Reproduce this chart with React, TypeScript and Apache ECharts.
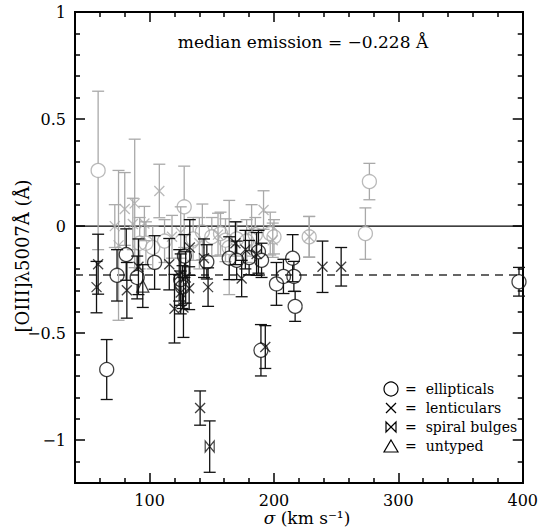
import React, { useEffect, useRef } from 'react';
import * as echarts from 'echarts';

// ---------- data: [sigma (km/s), EW [OIII] (Å), error (Å)] ----------
const greyEllipticals: number[][] = [
  [58.6, 0.26, 0.37], [127.8, 0.09, 0.19], [142.4, -0.027, 0.13], [157, -0.035, 0.1],
  [161, -0.066, 0.1], [92, -0.08, 0.12], [97, -0.08, 0.1], [197, -0.035, 0.1],
  [228.3, -0.05, 0.095], [276.7, 0.208, 0.085], [273.5, -0.035, 0.12], [102.5, -0.1, 0.1],
  [112, -0.07, 0.1], [135, -0.06, 0.1], [150, -0.05, 0.09], [170, -0.06, 0.08],
  [178, -0.07, 0.1], [185, -0.04, 0.08], [200, -0.05, 0.08], [164, -0.1, 0.22],
];
const greyLenticulars: number[][] = [
  [72, 0.0, 0.1], [80, 0.08, 0.17], [88, 0.106, 0.3], [86.5, 0.01, 0.12],
  [107.8, 0.164, 0.125], [95.8, 0.012, 0.08], [118, -0.05, 0.1], [125, -0.03, 0.12],
  [191.6, 0.075, 0.09], [199, -0.066, 0.08], [228.3, -0.05, 0.095], [140, -0.08, 0.12],
  [75, -0.09, 0.35], [182, -0.02, 0.12], [155, -0.04, 0.1],
];
const blackEllipticals: number[][] = [
  [65.5, -0.67, 0.14], [73.8, -0.23, 0.12], [81.2, -0.133, 0.12], [90, -0.24, 0.1],
  [104, -0.17, 0.125], [125, -0.25, 0.12], [126.5, -0.285, 0.1], [128, -0.14, 0.1],
  [146, -0.167, 0.08], [164, -0.15, 0.1], [170, -0.16, 0.09], [180, -0.147, 0.08],
  [187.5, -0.12, 0.1], [190, -0.16, 0.08], [189.5, -0.58, 0.12], [202, -0.27, 0.1],
  [207.6, -0.235, 0.08], [215, -0.15, 0.11], [216, -0.235, 0.07], [217, -0.375, 0.07],
  [397, -0.26, 0.067],
];
const blackLenticulars: number[][] = [
  [58.6, -0.178, 0.14], [57.3, -0.285, 0.12], [81.7, -0.3, 0.13], [91, -0.19, 0.13],
  [115.8, -0.178, 0.12], [120, -0.386, 0.16], [127.2, -0.38, 0.14], [123.8, -0.23, 0.12],
  [129, -0.24, 0.12], [125, -0.31, 0.1], [131.8, -0.29, 0.1], [132.3, -0.1, 0.13],
  [140.6, -0.85, 0.08], [143.7, -0.15, 0.09], [147, -0.285, 0.09], [169, -0.08, 0.1],
  [177, -0.11, 0.09], [174, -0.245, 0.085], [193, -0.565, 0.1], [239, -0.19, 0.12],
  [254, -0.19, 0.09], [186, -0.13, 0.1],
];
const blackSpirals: number[][] = [[148.3, -1.03, 0.12]];
const blackUntyped: number[][] = [[94.5, -0.28, 0.1]];

const medianEmission = -0.228;

const xRange = [40, 400];
const yRange = [-1.2, 1];
const xMajorTicks = [100, 200, 300, 400];
const xMinorTicks = [60, 80, 120, 140, 160, 180, 220, 240, 260, 280, 320, 340, 360, 380];
const yMajorTicks = [-1, -0.5, 0, 0.5, 1];
const yMinorTicks = [-1.1, -0.9, -0.8, -0.7, -0.6, -0.4, -0.3, -0.2, -0.1, 0.1, 0.2, 0.3, 0.4, 0.6, 0.7, 0.8, 0.9];

const legendLabels = ['=  ellipticals', '=  lenticulars', '=  spiral bulges', '=  untyped'];

const FONT = '"DejaVu Serif", "Liberation Serif", serif';
const GREY = '#a9a9a9';
const BLACK = '#111';

const CROSS = 'path://M0,0L10,10M10,0L0,10';
const BOWTIE = 'path://M0,0L10,10L10,0L0,10Z';

const fmt = (v: number) => (v < 0 ? '\u2212' + Math.abs(v) : String(v));

function App() {
  const ref = useRef<HTMLDivElement>(null);
  useEffect(() => {
    document.body.style.margin = '0';
    if (!ref.current) return;
    const chart = echarts.init(ref.current, undefined, { renderer: 'svg' });

    const xAxis = (position: string, ticks: number[], len: number, label: boolean) => ({
      type: 'value', min: xRange[0], max: xRange[1], position,
      axisLine: { show: true, onZero: false, lineStyle: { color: '#000', width: 2 } },
      axisTick: { show: true, inside: true, length: len, customValues: ticks, lineStyle: { color: '#000', width: 1.5 } },
      axisLabel: label
        ? { show: true, customValues: xMajorTicks, color: '#000', fontFamily: FONT, fontSize: 16, margin: 9, formatter: fmt }
        : { show: false },
      splitLine: { show: false },
    });
    const yAxis = (position: string, ticks: number[], len: number, label: boolean) => ({
      type: 'value', min: yRange[0], max: yRange[1], position,
      axisLine: { show: true, onZero: false, lineStyle: { color: '#000', width: 2 } },
      axisTick: { show: true, inside: true, length: len, customValues: ticks, lineStyle: { color: '#000', width: 1.5 } },
      axisLabel: label
        ? { show: true, customValues: yMajorTicks, color: '#000', fontFamily: FONT, fontSize: 16, margin: 9, formatter: fmt }
        : { show: false },
      splitLine: { show: false },
    });

    const errSeries = (data: number[][], color: string, gap: number, z: number) => ({
      type: 'custom', xAxisIndex: 0, yAxisIndex: 0, data, z, clip: false,
      encode: { x: 0, y: 1 },
      renderItem: (_p: any, api: any) => {
        const x = api.value(0), y = api.value(1), e = api.value(2);
        const c = api.coord([x, y]);
        const t = api.coord([x, y + e]);
        const b = api.coord([x, y - e]);
        const w = 6;
        const style = { stroke: color, lineWidth: 1.3, fill: null };
        return {
          type: 'group',
          children: [
            { type: 'line', shape: { x1: c[0], y1: c[1] - gap, x2: t[0], y2: t[1] }, style },
            { type: 'line', shape: { x1: c[0], y1: c[1] + gap, x2: b[0], y2: b[1] }, style },
            { type: 'line', shape: { x1: t[0] - w, y1: t[1], x2: t[0] + w, y2: t[1] }, style },
            { type: 'line', shape: { x1: b[0] - w, y1: b[1], x2: b[0] + w, y2: b[1] }, style },
          ],
        };
      },
    });
    const symSeries = (data: number[][], symbol: string, size: any, color: string, z: number) => ({
      type: 'scatter', xAxisIndex: 0, yAxisIndex: 0, z,
      data: data.map((d) => [d[0], d[1]]),
      symbol, symbolSize: size,
      itemStyle: { color: 'rgba(0,0,0,0)', borderColor: color, borderWidth: 1.3 },
      emphasis: { disabled: true },
    });

    const lx = 391, ly0 = 389, ldy = 19;
    const legendGraphics: any[] = [
      { type: 'circle', shape: { cx: lx, cy: ly0, r: 7 }, style: { fill: 'none', stroke: '#000', lineWidth: 1.2 } },
      { type: 'polyline', shape: { points: [[lx - 5, ly0 + ldy - 5], [lx + 5, ly0 + ldy + 5]] }, style: { stroke: '#000', lineWidth: 1.2 } },
      { type: 'polyline', shape: { points: [[lx + 5, ly0 + ldy - 5], [lx - 5, ly0 + ldy + 5]] }, style: { stroke: '#000', lineWidth: 1.2 } },
      { type: 'polygon', shape: { points: [[lx - 5, ly0 + 2 * ldy - 5], [lx + 5, ly0 + 2 * ldy + 5], [lx + 5, ly0 + 2 * ldy - 5], [lx - 5, ly0 + 2 * ldy + 5]] }, style: { fill: 'none', stroke: '#000', lineWidth: 1.2 } },
      { type: 'polygon', shape: { points: [[lx, ly0 + 3 * ldy - 6], [lx + 7, ly0 + 3 * ldy + 6], [lx - 7, ly0 + 3 * ldy + 6]] }, style: { fill: 'none', stroke: '#000', lineWidth: 1.2 } },
      ...legendLabels.map((t, i) => ({
        type: 'text', x: lx + 14, y: ly0 + i * ldy,
        style: { text: t, fill: '#000', font: `14px ${FONT}`, textVerticalAlign: 'middle', textAlign: 'left' },
      })),
      {
        type: 'text', x: 303, y: 42,
        style: { text: 'median emission = \u22120.228 \u00C5', fill: '#000', font: `17px ${FONT}`, textAlign: 'center', textVerticalAlign: 'middle' },
      },
      {
        type: 'text', x: 307, y: 518,
        style: {
          text: '{i|\u03C3} (km s\u207B\u00B9)', fill: '#000', font: `17px ${FONT}`, textAlign: 'center', textVerticalAlign: 'middle',
          rich: { i: { fontStyle: 'italic', fontFamily: FONT, fontSize: 17 } },
        },
      },
      {
        type: 'text', x: 22, y: 256, rotation: Math.PI / 2,
        style: { text: '[OIII]\u03BB5007\u00C5 (\u00C5)', fill: '#000', font: `18px ${FONT}`, textAlign: 'center', textVerticalAlign: 'middle' },
      },
    ];

    chart.setOption({
      animation: false,
      grid: { left: 75, right: 14, top: 12, bottom: 49 },
      xAxis: [
        xAxis('bottom', xMajorTicks, 10, true),
        xAxis('bottom', xMinorTicks, 5, false),
        xAxis('top', xMajorTicks, 10, false),
        xAxis('top', xMinorTicks, 5, false),
      ],
      yAxis: [
        yAxis('left', yMajorTicks, 10, true),
        yAxis('left', yMinorTicks, 5, false),
        yAxis('right', yMajorTicks, 10, false),
        yAxis('right', yMinorTicks, 5, false),
      ],
      series: [
        {
          type: 'line', xAxisIndex: 0, yAxisIndex: 0, data: [[xRange[0], 0], [xRange[1], 0]],
          symbol: 'none', lineStyle: { color: '#000', width: 1.2 }, z: 1,
        },
        {
          type: 'line', xAxisIndex: 0, yAxisIndex: 0, data: [[xRange[0], medianEmission], [xRange[1], medianEmission]],
          symbol: 'none', lineStyle: { color: '#333', width: 1.5, type: [8, 6] }, z: 1,
        },
        errSeries(greyEllipticals, GREY, 7, 2),
        errSeries(greyLenticulars, GREY, 0, 2),
        symSeries(greyEllipticals, 'circle', 14, GREY, 3),
        symSeries(greyLenticulars, CROSS, 10, GREY, 3),
        errSeries(blackEllipticals, BLACK, 7, 4),
        errSeries(blackLenticulars, BLACK, 0, 4),
        errSeries(blackSpirals, BLACK, 0, 4),
        errSeries(blackUntyped, BLACK, 0, 4),
        symSeries(blackEllipticals, 'circle', 14, BLACK, 5),
        symSeries(blackLenticulars, CROSS, 10, BLACK, 5),
        symSeries(blackSpirals, BOWTIE, [9, 11], BLACK, 5),
        symSeries(blackUntyped, 'triangle', 12, BLACK, 5),
      ],
      graphic: legendGraphics,
    });
    return () => chart.dispose();
  }, []);
  return <div ref={ref} style={{ width: 541, height: 532 }} />;
}

export default App;
